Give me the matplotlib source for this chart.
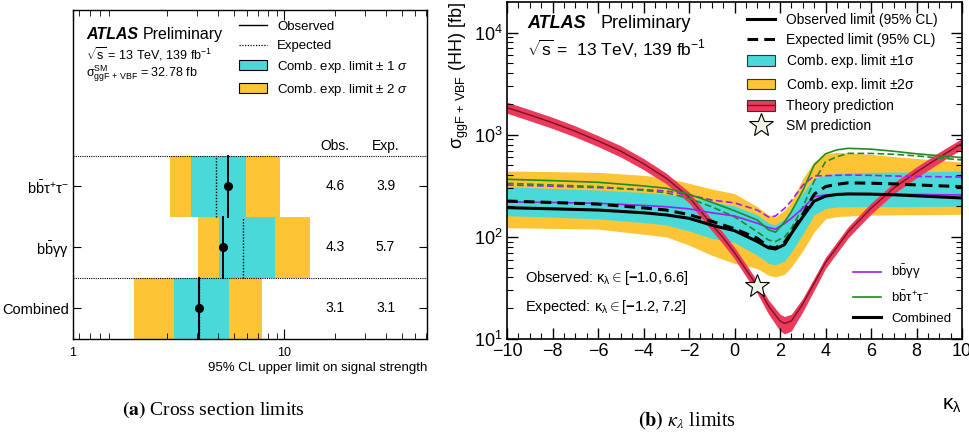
import matplotlib
matplotlib.use('Agg')
import matplotlib.pyplot as plt
from matplotlib.lines import Line2D
from matplotlib.patches import Patch
from matplotlib.ticker import LogLocator, MultipleLocator, NullFormatter, FixedLocator, FixedFormatter

plt.rcParams['font.family'] = ['Liberation Sans', 'DejaVu Sans']
plt.rcParams['mathtext.fontset'] = 'custom'
plt.rcParams['mathtext.rm'] = 'Liberation Sans'
plt.rcParams['mathtext.it'] = 'Liberation Sans:italic'
plt.rcParams['mathtext.bf'] = 'Liberation Sans:bold'
plt.rcParams['mathtext.sf'] = 'Liberation Sans'

YELLOW = '#fdc536'
CYAN = '#4ad9d9'
RED = '#ec3a5c'
DARKRED = '#7a1420'
PURPLE = '#a020f0'
GREEN = '#228b22'

# ---- (a) signal strength limits
channels = ['Combined', r'$\mathrm{b\bar{b}\gamma\gamma}$', r'$\mathrm{b\bar{b}\tau^{+}\tau^{-}}$']
obs_mu = [3.1, 4.3, 4.6]
exp_mu = [3.1, 5.7, 3.9]
exp_m1 = [2.21, 4.10, 2.80]
exp_p1 = [4.71, 8.84, 5.94]
exp_m2 = [1.28, 3.07, 2.08]
exp_p2 = [7.40, 14.3, 9.47]

# ---- (b) kappa_lambda scan
kl = [-10, -8, -6, -4, -3, -2, -1, 0, 1, 1.5, 1.8, 2.2, 2.5, 3, 3.5, 4, 4.5, 5, 6, 7, 8, 10]
kl_exp_p2 = [441, 435, 428, 400, 379, 334, 294, 265, 197, 164, 157, 183, 221, 371, 543, 650, 670, 665, 640, 610, 585, 540]
kl_exp_p1 = [310, 298, 287, 272, 261, 241, 221, 200, 164, 136, 131, 150, 190, 267, 374, 400, 419, 425, 428, 430, 433, 440]
kl_exp = [224, 217, 209, 192, 183, 165, 142, 120, 97, 80, 78, 88, 112, 166, 261, 310, 327, 338, 335, 330, 322, 310]
kl_exp_m1 = [161, 156, 150, 138, 131, 114, 97, 88, 66, 55, 53, 58, 71, 106, 164, 190, 196, 197, 198, 197, 198, 200]
kl_exp_m2 = [123, 121, 119, 106, 100, 83, 66, 55, 49, 42, 40.5, 43, 51, 73, 112, 150, 158, 160, 163, 164, 165, 166]
kl_obs = [193, 188, 183, 172, 164, 152, 130, 115, 90, 78, 76, 84, 108, 157, 224, 250, 260, 263, 262, 258, 252, 240]
yy_exp = [322, 313, 303, 290, 281, 257, 229, 215, 183, 156, 160, 190, 225, 320, 395, 397, 400, 403, 400, 394, 390, 385]
yy_obs = [220, 217, 213, 203, 197, 188, 172, 160, 136, 123, 119, 135, 152, 190, 247, 257, 260, 263, 262, 261, 260, 257]
tt_exp = [334, 322, 310, 285, 270, 238, 197, 157, 112, 93, 90, 100, 121, 195, 350, 543, 608, 657, 655, 643, 620, 565]
tt_obs = [366, 355, 342, 315, 299, 261, 218, 180, 146, 117, 111, 140, 176, 283, 505, 650, 710, 735, 722, 688, 650, 596]

th_kl = [-10, -9, -8, -7, -6, -5, -4, -3, -2, -1, -0.5, 0, 0.5, 1, 1.5, 2, 2.2, 2.5, 3, 3.5, 4, 5, 6, 7, 8, 9, 10]
th_xs = [1840, 1560, 1310, 1080, 870, 690, 520, 375, 245, 132, 98, 70, 48, 32.8, 21, 15, 14.2, 15, 22, 35, 56, 112, 190, 300, 430, 600, 820]
th_hi = [2080, 1760, 1480, 1220, 980, 780, 585, 420, 275, 148, 110, 79, 54, 37, 24, 17.5, 16.6, 17.5, 25, 39.5, 63, 126, 214, 338, 485, 675, 920]
th_lo = [1620, 1370, 1150, 950, 765, 605, 455, 330, 215, 115, 85, 61, 41, 28, 17.5, 12, 11.2, 12, 18.5, 30, 49, 98, 167, 264, 378, 528, 722]
sm_kl = 1.0
sm_xs = 32.78

W, H = 969, 438
fig = plt.figure(figsize=(W / 100, H / 100), dpi=100)

# ================= left panel
ax1 = fig.add_axes([73 / W, 1 - 339 / H, 354 / W, 329 / H])
ypos = list(range(len(channels)))
ax1.barh(ypos, [h - l for l, h in zip(exp_m2, exp_p2)], left=exp_m2, height=1.0, color=YELLOW, lw=0)
ax1.barh(ypos, [h - l for l, h in zip(exp_m1, exp_p1)], left=exp_m1, height=1.0, color=CYAN, lw=0)
for y, e, o in zip(ypos, exp_mu, obs_mu):
    ax1.plot([e, e], [y - 0.5, y + 0.5], color='k', ls=(0, (1, 1.2)), lw=1.0)
    ax1.plot([o, o], [y - 0.5, y + 0.5], color='k', lw=1.4)
ax1.plot(obs_mu, ypos, 'o', color='k', ms=5.5)
for yb in [0.5, 2.5]:
    ax1.axhline(yb, color='k', ls=(0, (1, 1)), lw=0.8)

ax1.set_xscale('log')
ax1.set_xlim(0.552, 70.6)
ax1.set_ylim(-0.5, 4.89)
ax1.xaxis.set_major_locator(FixedLocator([0.552, 10]))
ax1.xaxis.set_major_formatter(FixedFormatter(['1', '10']))
ax1.xaxis.set_minor_locator(LogLocator(base=10, subs=range(2, 10), numticks=20))
ax1.xaxis.set_minor_formatter(NullFormatter())
ax1.set_yticks(ypos)
ax1.set_yticklabels(channels)
ax1.tick_params(axis='x', which='major', direction='in', top=True, length=7, labelsize=9, pad=6)
ax1.tick_params(axis='x', which='minor', direction='in', top=True, length=4)
ax1.tick_params(axis='y', direction='in', right=True, length=6, labelsize=10.5, pad=3)
ax1.set_xlabel('95% CL upper limit on signal strength', loc='right', fontsize=9.5, labelpad=2)
for s in ax1.spines.values():
    s.set_linewidth(1.0)

ax1.text(20, 2.67, 'Obs.', ha='center', va='center', fontsize=10)
ax1.text(40, 2.67, 'Exp.', ha='center', va='center', fontsize=10)
for y, o, e in zip(ypos, obs_mu, exp_mu):
    ax1.text(20, y, f'{o:.1f}', ha='center', va='center', fontsize=10)
    ax1.text(40, y, f'{e:.1f}', ha='center', va='center', fontsize=10)

ax1.text(0.037, 0.927, 'ATLAS', transform=ax1.transAxes, fontsize=11.5, fontweight='bold',
         style='italic', va='center')
ax1.text(0.198, 0.927, 'Preliminary', transform=ax1.transAxes, fontsize=11.5, va='center')
ax1.text(0.037, 0.866, r'$\sqrt{\mathrm{s}}$ = 13 TeV, 139 fb$^{-1}$', transform=ax1.transAxes,
         fontsize=9, va='center')
ax1.text(0.037, 0.805, r'$\mathrm{\sigma^{SM}_{ggF\,+\,VBF}}$ = 32.78 fb', transform=ax1.transAxes,
         fontsize=9, va='center')

leg_a = [Line2D([], [], color='k', lw=1.0),
         Line2D([], [], color='k', lw=0.9, ls=(0, (1, 1.2))),
         Patch(facecolor=CYAN, edgecolor='k', lw=0.8),
         Patch(facecolor=YELLOW, edgecolor='k', lw=0.8)]
ax1.legend(leg_a, ['Observed', 'Expected', r'Comb. exp. limit $\pm$ 1 $\sigma$',
                   r'Comb. exp. limit $\pm$ 2 $\sigma$'],
           loc='upper left', bbox_to_anchor=(0.469, 0.968), borderaxespad=0, borderpad=0,
           frameon=False, fontsize=9.5, handlelength=2.1, handleheight=0.8,
           handletextpad=0.8, labelspacing=0.5)

# ================= right panel
ax2 = fig.add_axes([507 / W, 1 - 339 / H, 455 / W, 337 / H])
ax2.fill_between(kl, kl_exp_m2, kl_exp_p2, color=YELLOW, lw=0)
ax2.fill_between(kl, kl_exp_m1, kl_exp_p1, color=CYAN, lw=0)
ax2.fill_between(th_kl, th_lo, th_hi, color=RED, lw=0)
ax2.plot(th_kl, th_xs, color=DARKRED, lw=1.0)
ax2.plot(kl, yy_exp, color=PURPLE, lw=1.2, ls=(0, (4, 2)))
ax2.plot(kl, tt_exp, color=GREEN, lw=1.2, ls=(0, (4, 2)))
ax2.plot(kl, yy_obs, color=PURPLE, lw=1.2)
ax2.plot(kl, tt_obs, color=GREEN, lw=1.2)
ax2.plot(kl, kl_exp, color='k', lw=2.2, ls=(0, (3.5, 2)))
ax2.plot(kl, kl_obs, color='k', lw=2.2)
ax2.plot([sm_kl], [sm_xs], marker='*', ms=18, mfc='#eef4e6', mec='k', mew=0.8, zorder=10)

ax2.set_yscale('log')
ax2.set_xlim(-10, 10)
ax2.set_ylim(10, 1.99e4)
ax2.xaxis.set_major_locator(MultipleLocator(2))
ax2.xaxis.set_minor_locator(MultipleLocator(0.5))
ax2.yaxis.set_minor_locator(LogLocator(base=10, subs=range(2, 10), numticks=20))
ax2.yaxis.set_minor_formatter(NullFormatter())
ax2.tick_params(which='major', direction='in', top=True, right=True, length=8, width=1.0,
                labelsize=13, pad=3)
ax2.tick_params(which='minor', direction='in', top=True, right=True, length=4, width=0.8)
for s in ax2.spines.values():
    s.set_linewidth(1.2)
ax2.set_xlabel(r'$\mathrm{\kappa_{\lambda}}$', loc='right', fontsize=15, labelpad=26)
ax2.set_ylabel(r'$\mathrm{\sigma_{ggF\,+\,VBF}}$ (HH) [fb]', loc='top', fontsize=13, labelpad=2)

ax2.text(0.045, 0.935, 'ATLAS', transform=ax2.transAxes, fontsize=13, fontweight='bold',
         style='italic', va='center')
ax2.text(0.205, 0.935, 'Preliminary', transform=ax2.transAxes, fontsize=13, va='center')
ax2.text(0.045, 0.86, r'$\sqrt{\mathrm{s}}$ =  13 TeV, 139 fb$^{-1}$', transform=ax2.transAxes,
         fontsize=12.5, va='center')
ax2.text(0.04, 0.18, r'Observed: $\mathrm{\kappa_{\lambda}} \in [\mathbf{-}1.0, 6.6]$',
         transform=ax2.transAxes, fontsize=10.5, va='center')
ax2.text(0.04, 0.095, r'Expected: $\mathrm{\kappa_{\lambda}} \in [\mathbf{-}1.2, 7.2]$',
         transform=ax2.transAxes, fontsize=10.5, va='center')

leg_b1 = [Line2D([], [], color='k', lw=2.2),
          Line2D([], [], color='k', lw=2.2, ls=(0, (3.5, 2))),
          Patch(facecolor=CYAN, edgecolor='#333333', lw=0.8),
          Patch(facecolor=YELLOW, edgecolor='#333333', lw=0.8),
          (Patch(facecolor=RED, edgecolor='#333333', lw=0.8), Line2D([], [], color=DARKRED, lw=1.0)),
          Line2D([], [], ls='', marker='*', ms=18, mfc='#eef4e6', mec='k', mew=0.8)]
lg1 = ax2.legend(leg_b1, ['Observed limit (95% CL)', 'Expected limit (95% CL)',
                          r'Comb. exp. limit $\pm$1$\mathrm{\sigma}$',
                          r'Comb. exp. limit $\pm$2$\mathrm{\sigma}$',
                          'Theory prediction', 'SM prediction'],
                 loc='upper left', bbox_to_anchor=(0.527, 0.967), borderaxespad=0, borderpad=0,
                 frameon=False, fontsize=10, handlelength=2.0, handleheight=0.8,
                 handletextpad=0.8, labelspacing=0.4)
ax2.add_artist(lg1)

leg_b2 = [Line2D([], [], color=PURPLE, lw=1.2),
          Line2D([], [], color=GREEN, lw=1.2),
          Line2D([], [], color='k', lw=2.2)]
ax2.legend(leg_b2, [r'$\mathrm{b\bar{b}\gamma\gamma}$', r'$\mathrm{b\bar{b}\tau^{+}\tau^{-}}$', 'Combined'],
           loc='upper left', bbox_to_anchor=(0.760, 0.226), borderaxespad=0, borderpad=0,
           frameon=False, fontsize=9.5, handlelength=2.1, handletextpad=0.8, labelspacing=0.6)

# captions
fig.text(213 / W, 1 - 410 / H, r'$\mathbf{(a)}$ Cross section limits', ha='center', va='center',
         fontsize=14, family='Liberation Serif', math_fontfamily='stix')
fig.text(687 / W, 1 - 421 / H, r'$\mathbf{(b)}$ $\kappa_{\lambda}$ limits', ha='center', va='center',
         fontsize=14.5, family='Liberation Serif', math_fontfamily='stix')

fig.savefig('out.png', dpi=100)
